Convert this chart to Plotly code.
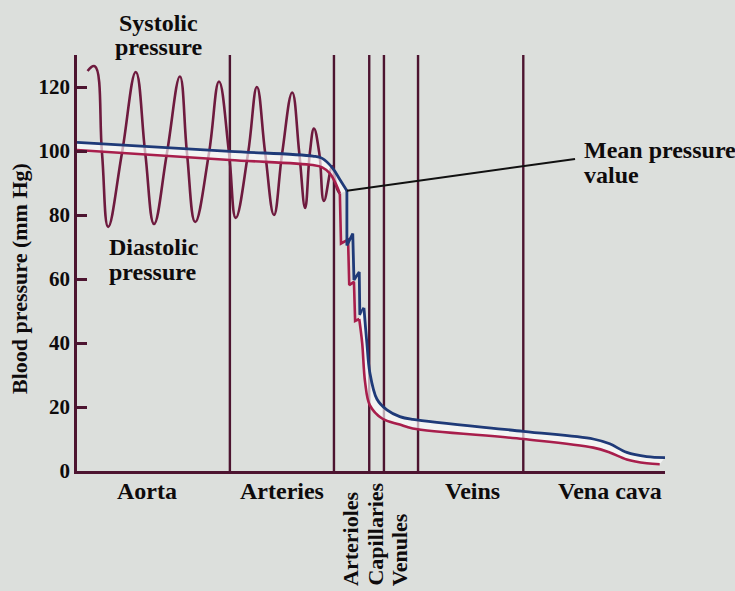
import plotly.graph_objects as go

# ---- data -------------------------------------------------------------
# Position along the circulation runs 0..100 (aorta -> vena cava)
section_bounds = [26.0, 43.7, 49.7, 52.2, 58.0, 75.9]

section_names = ["Aorta", "Arteries", "Veins", "Vena cava"]
section_name_x = [11.9, 34.9, 67.2, 90.6]

narrow_names = ["Arterioles", "Capillaries", "Venules"]
narrow_name_x = [46.6, 50.7, 54.9]

y_ticks = [0, 20, 40, 60, 80, 100, 120]

# pulsating pressure (systolic peaks, diastolic troughs and mid crossings), mm Hg
pulse_x = [1.8, 3.0, 4.25, 5.3, 7.65, 10.0, 11.6, 13.1, 15.3, 17.5,
           18.7, 20.1, 22.45, 24.15, 25.85, 27.0, 29.1, 30.6, 32.0, 33.5,
           34.9, 36.6, 37.8, 38.8, 39.6, 40.3, 41.2, 42.0, 43.4, 44.2, 44.7]
pulse_y = [125.0, 126.5, 99.4, 76.3, 99.4, 124.7, 99.4, 77.2, 99.4, 123.3,
           99.4, 77.8, 99.4, 121.7, 99.4, 79.1, 99.4, 120.0, 99.4, 80.0,
           99.4, 118.3, 99.4, 82.2, 99.4, 107.0, 99.4, 84.4, 95.2, 88.3, 86.7]

# upper mean-pressure trace (blue)
blue_top_x = [0.0, 26.0, 40.1, 41.7, 43.5, 44.7, 45.9]
blue_top_y = [102.7, 99.9, 98.4, 97.7, 94.6, 91.1, 87.6]
blue_step_x = [45.9, 45.9, 46.9, 47.1, 48.0, 48.1, 48.8]
blue_step_y = [87.6, 70.5, 74.2, 59.7, 62.2, 48.8, 51.0]
blue_tail_x = [48.8, 49.3, 49.8, 51.0, 52.7, 54.9, 57.1, 75.9, 87.8, 90.6, 93.5, 96.9, 100.0]
blue_tail_y = [51.0, 40.0, 30.8, 22.5, 19.1, 17.0, 16.1, 12.4, 10.0, 8.5, 5.8, 4.5, 4.2]

# lower mean-pressure trace (red)
red_top_x = [0.0, 26.0, 40.1, 41.7, 43.0, 44.0, 44.7]
red_top_y = [100.3, 97.2, 95.6, 94.9, 93.0, 89.8, 86.7]
red_step_x = [44.7, 44.9, 46.1, 46.3, 47.1, 47.3, 48.0]
red_step_y = [86.7, 71.1, 72.3, 58.1, 59.1, 46.9, 47.5]
red_tail_x = [48.0, 48.5, 49.0, 49.8, 51.9, 54.9, 57.1, 75.9, 87.8, 90.6, 93.5, 96.9, 99.1]
red_tail_y = [47.5, 40.0, 27.7, 20.6, 16.4, 14.5, 13.3, 10.0, 7.3, 5.8, 3.6, 2.4, 2.1]

# ---- styling ----------------------------------------------------------
BG = "#dcdfdc"
MAROON = "#4d1430"
PULSE = "#6e1a3e"
BLUE = "#1f3a78"
RED = "#a81e4c"
INK = "#0e0b0c"
GAP = "rgba(255,255,255,0.65)"
FONT = "Liberation Serif"

fig = go.Figure()

fig.add_trace(go.Scatter(x=pulse_x, y=pulse_y, mode="lines",
                         line=dict(color=PULSE, width=2.6, shape="spline", smoothing=1.2),
                         hoverinfo="skip"))

# red and blue traces drawn as a pair with a pale band between them
pairs = [
    (red_top_x, red_top_y, blue_top_x, blue_top_y, "spline", True),
    (red_step_x, red_step_y, blue_step_x, blue_step_y, "linear", False),
    (red_tail_x, red_tail_y, blue_tail_x, blue_tail_y, "spline", True),
]
for rx, ry, bx, by, shape, band in pairs:
    fig.add_trace(go.Scatter(x=rx, y=ry, mode="lines",
                             line=dict(color=RED, width=2.6, shape=shape),
                             hoverinfo="skip"))
    fig.add_trace(go.Scatter(x=bx, y=by, mode="lines",
                             line=dict(color=BLUE, width=2.8, shape=shape),
                             fill="tonexty" if band else None,
                             fillcolor=GAP, hoverinfo="skip"))

# vertical section boundaries
for b in section_bounds:
    fig.add_shape(type="line", xref="x", yref="y", x0=b, x1=b, y0=0, y1=130,
                  line=dict(color=MAROON, width=2.4), layer="below")

# pointer to the mean pressure curve
fig.add_shape(type="line", xref="x", yref="y",
              x0=blue_top_x[-1], y0=blue_top_y[-1], x1=84.7, y1=97.5,
              line=dict(color="#111111", width=2))


def label(text, x, y, xref="paper", size=24, xanchor="center", yanchor="middle", angle=0):
    return dict(x=x, xref=xref, y=y, yref="paper", text="<b>%s</b>" % text,
                showarrow=False, xanchor=xanchor, yanchor=yanchor, textangle=angle,
                font=dict(family=FONT, size=size, color=INK))


annotations = []
for name, x in zip(section_names, section_name_x):
    annotations.append(label(name, x, -0.048, xref="x"))
for name, x in zip(narrow_names, narrow_name_x):
    annotations.append(label(name, x, -0.281, xref="x", size=22,
                             yanchor="bottom", angle=-90))

annotations += [
    label("Systolic", 0.138, 1.077),
    label("pressure", 0.138, 1.019),
    label("Diastolic", 0.051, 0.538, xanchor="left"),
    label("pressure", 0.051, 0.478, xanchor="left"),
    label("Mean pressure", 0.859, 0.772, xanchor="left"),
    label("value", 0.859, 0.712, xanchor="left"),
    label("Blood pressure (mm Hg)", -0.097, 0.464, size=22, angle=-90),
]

fig.update_layout(
    width=735, height=591,
    margin=dict(l=77, r=70, t=55, b=120),
    paper_bgcolor=BG, plot_bgcolor=BG,
    showlegend=False,
    annotations=annotations,
    xaxis=dict(range=[0, 100], showgrid=False, zeroline=False,
               showticklabels=False, ticks="",
               showline=True, linecolor=MAROON, linewidth=3),
    yaxis=dict(range=[0, 130], showgrid=False, zeroline=False,
               tickvals=y_ticks, ticktext=["<b>%d</b>" % v for v in y_ticks],
               ticks="inside", ticklen=10, tickwidth=2.5, tickcolor=MAROON,
               tickfont=dict(family=FONT, size=21, color=INK),
               showline=True, linecolor=MAROON, linewidth=2.6),
)

fig.write_html("out.html")
